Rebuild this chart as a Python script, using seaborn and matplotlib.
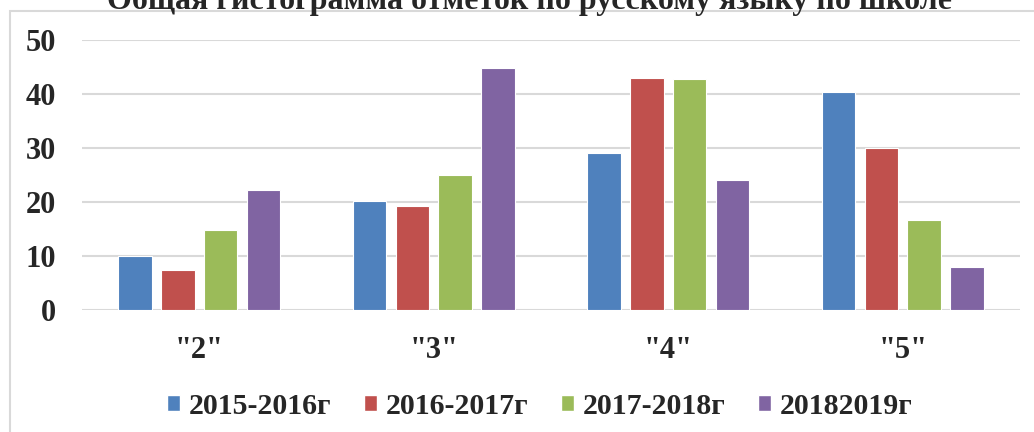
import pandas as pd
import matplotlib.pyplot as plt
import matplotlib.patches as mpatches
import seaborn as sns

# данные
grades = ['"2"', '"3"', '"4"', '"5"']
years = ['2015-2016г', '2016-2017г', '2017-2018г', '20182019г']
y2015 = [10.0, 20.1, 29.0, 40.3]
y2016 = [7.4, 19.3, 42.9, 30.0]
y2017 = [14.9, 25.0, 42.8, 16.7]
y2018 = [22.3, 44.8, 24.1, 7.9]
colors = ['#4F81BD', '#C0504D', '#9BBB59', '#8064A2']
title = 'Общая гистограмма отметок по русскому языку по школе'

# длинный формат для seaborn
rows = []
for year, vals in zip(years, [y2015, y2016, y2017, y2018]):
    for g, v in zip(grades, vals):
        rows.append({'grade': g, 'year': year, 'value': v})
df = pd.DataFrame(rows)

sns.set_style('white')
plt.rcParams['font.family'] = ['Liberation Serif', 'DejaVu Serif']
plt.rcParams['font.weight'] = 'bold'

fig = plt.figure(figsize=(10.34, 4.32), dpi=100)
ax = fig.add_axes([82 / 1034, 1 - 310 / 432, 938 / 1034, 270 / 432])

sns.barplot(data=df, x='grade', y='value', hue='year', palette=colors,
            saturation=1, width=0.73, gap=0.22, edgecolor='white',
            linewidth=0.8, ax=ax, legend=False)

ax.set_xlim(-0.5, 3.5)
ax.set_ylim(0, 50)
ax.set_yticks([0, 10, 20, 30, 40, 50])
ax.set_xlabel('')
ax.set_ylabel('')
for s in ax.spines.values():
    s.set_visible(False)
ax.yaxis.grid(True, color='#D9D9D9', linewidth=1.5)
ax.set_axisbelow(True)
ax.tick_params(axis='y', length=0, pad=19, labelsize=22)
ax.tick_params(axis='x', length=0, pad=19, labelsize=22)
for lbl in ax.get_xticklabels() + ax.get_yticklabels():
    lbl.set_fontweight('bold')

# рамка вокруг диаграммы
frame = mpatches.Rectangle((10 / 1034, -0.2), 1.2, 1.2 - 11 / 432,
                           transform=fig.transFigure, fill=False,
                           edgecolor='#D9D9D9', linewidth=1.5)
fig.patches.append(frame)

# заголовок (обрезан сверху, как в оригинале)
fig.text(0.512, 1 - 9 / 432, title, ha='center', va='baseline',
         fontsize=23, fontweight='bold')

# легенда
handles = [mpatches.Patch(facecolor=c, edgecolor='white') for c in colors]
fig.legend(handles, years, loc='center', bbox_to_anchor=(0.522, 1 - 406 / 432),
           ncol=4, frameon=False, prop={'size': 21.5, 'weight': 'bold'},
           handlelength=0.42, handleheight=0.42, handletextpad=0.3,
           columnspacing=1.1)

plt.savefig('out.png', dpi=100)
